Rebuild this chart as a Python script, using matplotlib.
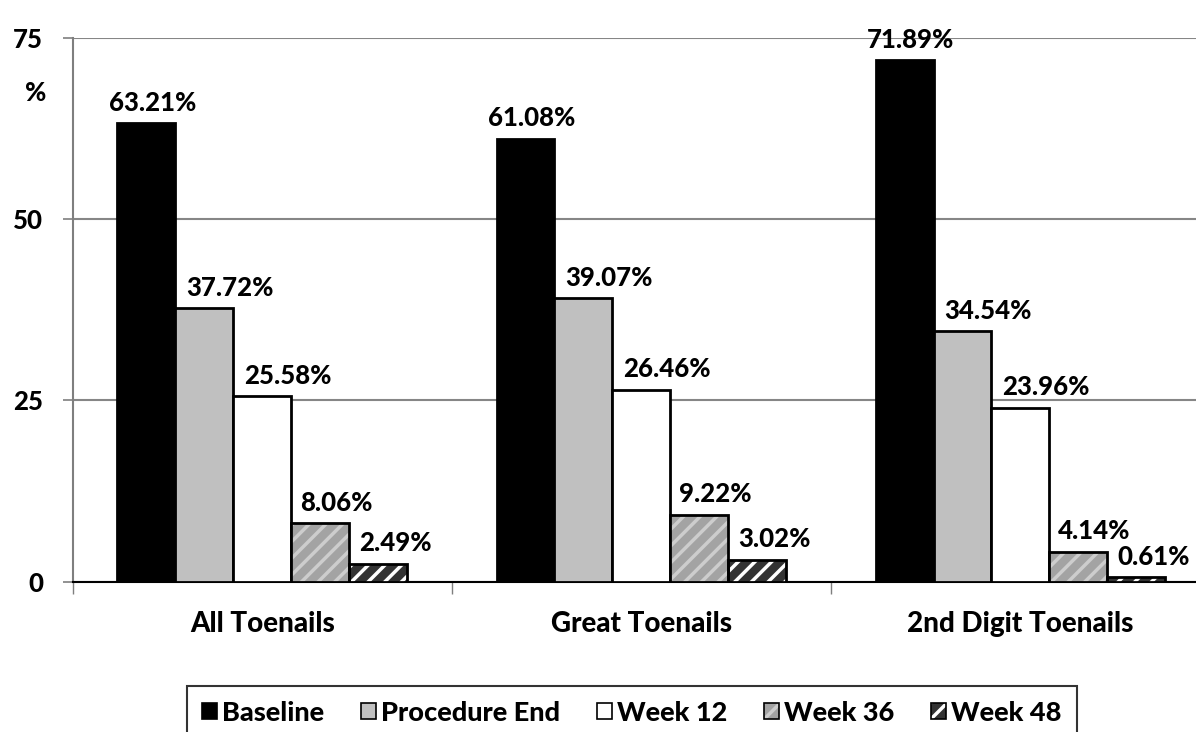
import numpy as np
import matplotlib
matplotlib.use("Agg")
import matplotlib.pyplot as plt
from matplotlib.patches import Patch
from matplotlib.legend_handler import HandlerTuple

plt.rcParams["font.family"] = ["Lato", "DejaVu Sans"]
plt.rcParams["font.weight"] = 900
plt.rcParams["hatch.linewidth"] = 2.5

groups = ["All Toenails", "Great Toenails", "2nd Digit Toenails"]
series = ["Baseline", "Procedure End", "Week 12", "Week 36", "Week 48"]
baseline = [63.21, 61.08, 71.89]
procedure_end = [37.72, 39.07, 34.54]
week12 = [25.58, 26.46, 23.96]
week36 = [8.06, 9.22, 4.14]
week48 = [2.49, 3.02, 0.61]
values = [baseline, procedure_end, week12, week36, week48]

# fill, hatch, hatch colour, label x-shift (data units)
styles = [
    ("#000000", None, None, 0.016),
    ("#c0c0c0", None, None, 0.066),
    ("#ffffff", None, None, 0.066),
    ("#a3a3a3", "//", "#cdcdcd", 0.042),
    ("#333333", "//", "#ffffff", 0.045),
]
FS = 18.5

fig = plt.figure(figsize=(11.96, 7.32), dpi=100)
ax = fig.add_axes([0.0610, 0.2053, 0.9507, 0.7432])

x = np.arange(len(groups))
width = 0.153
for i, (vals, (fc, hatch, hc, dx)) in enumerate(zip(values, styles)):
    pos = x + (i - 2) * width
    if hatch:
        ax.bar(pos, vals, width, color=fc, edgecolor=hc, hatch=hatch,
               linewidth=0, zorder=3)
        ax.bar(pos, vals, width, fill=False, edgecolor="black",
               linewidth=2, zorder=4)
    else:
        ax.bar(pos, vals, width, color=fc, edgecolor="black",
               linewidth=2, zorder=3)
    for p, v in zip(pos, vals):
        ax.annotate(f"{v:.2f}%", (p + dx, v), xytext=(0, 9),
                    textcoords="offset points", ha="center", va="baseline",
                    fontsize=FS, zorder=5)

ax.set_ylim(0, 75)
ax.set_xlim(-0.5, 2.5)
ax.set_yticks([0, 25, 50, 75])
ax.set_yticklabels(["0", "25", "50", "75"], fontsize=FS)
ax.yaxis.grid(True, color="#868686", linewidth=1.5, zorder=0)
ax.tick_params(axis="y", length=7.5, width=1.2, color="#7f7f7f", pad=14)

ax.set_xticks(x)
ax.set_xticklabels(groups, fontsize=20)
ax.set_xticks([-0.5, 0.5, 1.5, 2.5], minor=True)
ax.tick_params(axis="x", which="major", length=0, pad=21)
ax.tick_params(axis="x", which="minor", length=8.5, width=1, color="#7f7f7f")

for s in ["top", "right"]:
    ax.spines[s].set_visible(False)
ax.spines["left"].set_color("#7f7f7f")
ax.spines["left"].set_linewidth(1.5)
ax.spines["bottom"].set_color("black")
ax.spines["bottom"].set_linewidth(1.5)

fig.text(0.030, 0.873, "%", fontsize=FS, ha="center", va="center")

handles = []
for fc, hatch, hc, dx in styles:
    if hatch:
        handles.append((Patch(facecolor=fc, edgecolor=hc, hatch=hatch,
                              linewidth=0),
                        Patch(fill=False, edgecolor="black", linewidth=1.2)))
    else:
        handles.append(Patch(facecolor=fc, edgecolor="black", linewidth=1.2))
leg = fig.legend(handles=handles, labels=series, loc="upper left", ncol=5,
                 handler_map={tuple: HandlerTuple(ndivide=1, pad=0)},
                 bbox_to_anchor=(187 / 1196, 1 - 686 / 732),
                 frameon=True, fancybox=False, edgecolor="black",
                 fontsize=19.5, handlelength=0.55, handleheight=0.55,
                 handletextpad=0.2, columnspacing=1.35,
                 borderpad=0.55, borderaxespad=0)
leg.get_frame().set_linewidth(1.5)

fig.savefig("out.png", dpi=100)
